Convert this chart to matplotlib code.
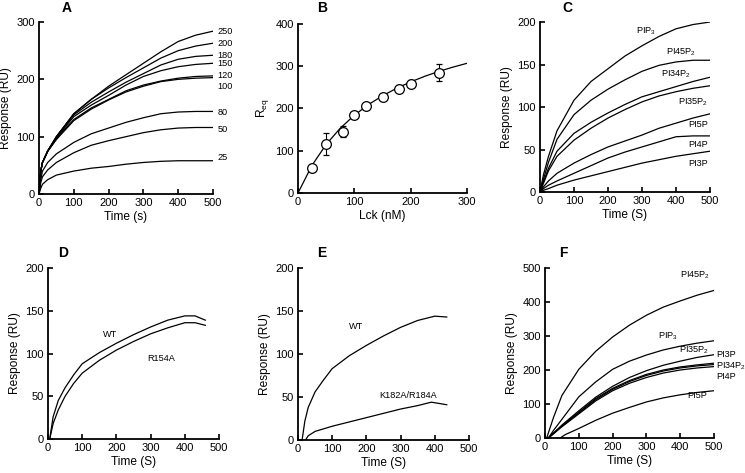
import matplotlib
matplotlib.use("Agg")
import matplotlib.pyplot as plt

plt.rcParams['font.family'] = ['Liberation Sans', 'DejaVu Sans']
plt.rcParams['mathtext.default'] = 'regular'

# ---------------- Panel A ----------------
a_time = [0, 5, 10, 25, 50, 100, 150, 200, 250, 300, 350, 400, 450, 500]
a_conc = ['250', '200', '180', '150', '120', '100', '80', '50', '25']
a_250 = [0, 40, 55, 75, 100, 140, 165, 188, 208, 228, 248, 266, 277, 284]
a_200 = [0, 40, 55, 75, 100, 140, 165, 185, 203, 220, 237, 250, 258, 263]
a_180 = [0, 40, 55, 75, 100, 138, 160, 178, 195, 210, 225, 235, 240, 242]
a_150 = [0, 40, 55, 75, 98, 135, 155, 172, 190, 205, 215, 222, 226, 228]
a_120 = [0, 40, 55, 75, 97, 130, 150, 165, 180, 190, 197, 202, 205, 206]
a_100 = [0, 40, 55, 74, 95, 128, 148, 164, 178, 188, 196, 200, 202, 203]
a_80 = [0, 25, 40, 55, 70, 90, 105, 115, 125, 133, 140, 143, 144, 144]
a_50 = [0, 20, 30, 42, 55, 72, 85, 93, 100, 107, 112, 115, 116, 116]
a_25 = [0, 10, 17, 25, 33, 40, 45, 48, 52, 55, 57, 58, 58, 58]
a_label_y = [284, 263, 242, 228, 206, 188, 142, 113, 64]

# ---------------- Panel B ----------------
b_conc = [25, 50, 80, 100, 120, 150, 180, 200, 250]
b_req = [59, 115, 145, 184, 206, 228, 247, 259, 285]
b_err = [0, 26, 13, 0, 0, 0, 8, 8, 20]
b_fit_x = [0, 25, 50, 75, 100, 125, 150, 175, 200, 225, 250, 275, 300]
b_fit_y = [0, 65.7, 115, 153.3, 184, 209.2, 230.1, 247.8, 263, 276.2, 287.8, 297.9, 307]

# ---------------- Panel C ----------------
c_time = [0, 10, 25, 50, 100, 150, 200, 250, 300, 350, 400, 450, 500]
c_names = ['PIP$_3$', 'PI45P$_2$', 'PI34P$_2$', 'PI35P$_2$', 'PI5P', 'PI4P', 'PI3P']
c_pip3 = [0, 20, 42, 72, 108, 130, 145, 160, 172, 183, 192, 197, 200]
c_pi45p2 = [0, 15, 35, 62, 91, 108, 121, 132, 142, 149, 153, 155, 155]
c_pi34p2 = [0, 12, 28, 48, 69, 82, 93, 103, 112, 118, 124, 130, 135]
c_pi35p2 = [0, 10, 25, 42, 61, 75, 87, 97, 106, 113, 118, 122, 125]
c_pi5p = [0, 6, 13, 22, 34, 44, 53, 60, 67, 75, 81, 87, 92]
c_pi4p = [0, 4, 8, 13, 22, 31, 40, 47, 53, 59, 65, 66, 66]
c_pi3p = [0, 2, 4, 8, 14, 19, 24, 29, 34, 38, 42, 45, 48]
c_label_x = [313, 416, 401, 450, 465, 465, 465]
c_label_y = [189, 165, 138, 106, 79, 56, 34]

# ---------------- Panel D ----------------
d_time = [5, 15, 30, 50, 75, 100, 150, 200, 250, 300, 350, 400, 430, 460]
d_wt = [0, 26, 45, 60, 75, 88, 101, 112, 122, 131, 139, 144, 144, 139]
d_r154a = [0, 18, 34, 50, 65, 77, 92, 104, 114, 123, 130, 136, 136, 133]

# ---------------- Panel E ----------------
e_time_wt = [12, 20, 30, 50, 75, 100, 150, 200, 250, 300, 350, 400, 435]
e_wt = [0, 22, 38, 56, 70, 83, 98, 110, 121, 131, 139, 144, 143]
e_time_mut = [22, 30, 50, 100, 150, 200, 250, 300, 350, 390, 435]
e_mut = [0, 5, 10, 16, 21, 26, 31, 36, 40, 44, 41]

# ---------------- Panel F ----------------
f_time_45 = [5, 25, 50, 100, 150, 200, 250, 300, 350, 400, 450, 500]
f_pi45p2 = [0, 60, 125, 202, 255, 297, 332, 361, 385, 403, 420, 434]
f_time_p3 = [10, 25, 50, 100, 150, 200, 250, 300, 350, 400, 450, 500]
f_pip3 = [0, 22, 55, 121, 165, 202, 226, 244, 259, 270, 279, 286]
f_time = [10, 50, 100, 150, 200, 250, 300, 350, 400, 450, 500]
f_pi35p2 = [0, 38, 80, 120, 152, 178, 198, 214, 226, 237, 245]
f_pi3p = [0, 36, 76, 116, 146, 169, 187, 200, 209, 215, 220]
f_pi34p2 = [0, 35, 74, 113, 143, 166, 184, 197, 206, 212, 216]
f_pi4p = [0, 33, 71, 109, 139, 161, 178, 191, 200, 206, 210]
f_time_5p = [45, 60, 100, 150, 200, 250, 300, 350, 400, 450, 500]
f_pi5p = [0, 10, 28, 52, 73, 90, 106, 118, 127, 134, 139]

W, H = 745, 473
fig = plt.figure(figsize=(W / 100, H / 100), dpi=100)


def make_ax(l, r, t, b):
    return fig.add_axes([l / W, (H - b) / H, (r - l) / W, (b - t) / H])


def style(ax, xmax, xstep, ymax, ystep, xlabel, ylabel):
    ax.set_xlim(0, xmax)
    ax.set_ylim(0, ymax)
    ax.set_xticks(range(0, xmax + 1, xstep))
    ax.set_yticks(range(0, ymax + 1, ystep))
    for s in ['top', 'right']:
        ax.spines[s].set_visible(False)
    for s in ['left', 'bottom']:
        ax.spines[s].set_linewidth(1.3)
    ax.tick_params(direction='in', length=3.5, width=1.2, labelsize=8, pad=3)
    ax.set_xlabel(xlabel, fontsize=8.6, labelpad=2)
    ax.set_ylabel(ylabel, fontsize=8.6, labelpad=3)
    ax.patch.set_alpha(0)


def letter(x, y, s):
    fig.text(x / W, 1 - y / H, s, fontsize=10, fontweight='bold', ha='center', va='center')


lw = 0.9
lab_fs = 6.6

# A
axA = make_ax(39, 213, 22, 194)
for ys in [a_250, a_200, a_180, a_150, a_120, a_100, a_80, a_50, a_25]:
    axA.plot(a_time, ys, color='black', lw=lw)
for s, y in zip(a_conc, a_label_y):
    axA.text(512, y, s, fontsize=lab_fs, va='center', ha='left', clip_on=False)
style(axA, 500, 100, 300, 100, 'Time (s)', 'Response (RU)')
letter(67, 8, 'A')

# B
axB = make_ax(298, 467, 24, 193)
axB.plot(b_fit_x, b_fit_y, color='black', lw=lw)
axB.errorbar(b_conc, b_req, yerr=b_err, fmt='o', mfc='white', mec='black',
             ecolor='black', ms=7, mew=0.9, elinewidth=0.8, capsize=2.5, capthick=0.8,
             clip_on=False, zorder=3)
style(axB, 300, 100, 400, 100, 'Lck (nM)', 'R$_{eq}$')
letter(322, 8, 'B')

# C
axC = make_ax(540, 710, 22, 192)
for ys in [c_pip3, c_pi45p2, c_pi34p2, c_pi35p2, c_pi5p, c_pi4p, c_pi3p]:
    axC.plot(c_time, ys, color='black', lw=lw)
for s, x, y in zip(c_names, c_label_x, c_label_y):
    axC.text(x, y, s, fontsize=lab_fs, va='center', ha='center')
style(axC, 500, 100, 200, 50, 'Time (S)', 'Response (RU)')
letter(567, 8, 'C')

# D
axD = make_ax(48, 219, 268, 439)
axD.plot(d_time, d_wt, color='black', lw=lw)
axD.plot(d_time, d_r154a, color='black', lw=lw)
axD.text(181, 122, 'WT', fontsize=lab_fs, ha='center', va='center')
axD.text(332, 94, 'R154A', fontsize=lab_fs, ha='center', va='center')
style(axD, 500, 100, 200, 50, 'Time (S)', 'Response (RU)')
letter(63, 253, 'D')

# E
axE = make_ax(298, 469, 268, 440)
axE.plot(e_time_wt, e_wt, color='black', lw=lw)
axE.plot(e_time_mut, e_mut, color='black', lw=lw)
axE.text(171, 132, 'WT', fontsize=lab_fs, ha='center', va='center')
axE.text(322, 52, 'K182A/R184A', fontsize=lab_fs, ha='center', va='center')
style(axE, 500, 100, 200, 50, 'Time (S)', 'Response (RU)')
letter(322, 253, 'E')

# F
axF = make_ax(545, 714, 268, 438)
axF.plot(f_time_45, f_pi45p2, color='black', lw=lw)
axF.plot(f_time_p3, f_pip3, color='black', lw=lw)
for ys in [f_pi35p2, f_pi3p, f_pi34p2, f_pi4p]:
    axF.plot(f_time, ys, color='black', lw=lw)
axF.plot(f_time_5p, f_pi5p, color='black', lw=lw)
axF.text(444, 479, 'PI45P$_2$', fontsize=lab_fs, ha='center', va='center')
axF.text(364, 298, 'PIP$_3$', fontsize=lab_fs, ha='center', va='center')
axF.text(440, 257, 'PI35P$_2$', fontsize=lab_fs, ha='center', va='center')
axF.text(506, 247, 'PI3P', fontsize=lab_fs, ha='left', va='center', clip_on=False)
axF.text(506, 212, 'PI34P$_2$', fontsize=lab_fs, ha='left', va='center', clip_on=False)
axF.text(506, 180, 'PI4P', fontsize=lab_fs, ha='left', va='center', clip_on=False)
axF.text(449, 126, 'PI5P', fontsize=lab_fs, ha='center', va='center')
style(axF, 500, 100, 500, 100, 'Time (S)', 'Response (RU)')
letter(563, 253, 'F')

fig.savefig('out.png', dpi=100)
